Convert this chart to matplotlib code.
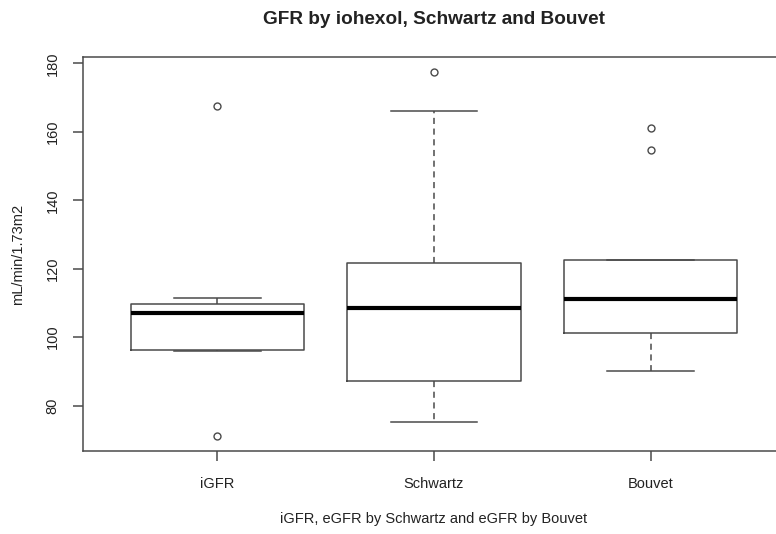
import matplotlib
matplotlib.use("Agg")
import matplotlib.pyplot as plt

plt.rcParams['font.family'] = ['Liberation Sans', 'DejaVu Sans']

# values (mL/min/1.73m2)
groups = ["iGFR", "Schwartz", "Bouvet"]
whis_lo = [95.8, 75.1, 90.0]
q1 = [96.3, 87.3, 101.1]
medians = [107.0, 108.5, 111.1]
q3 = [109.7, 121.6, 122.5]
whis_hi = [111.4, 166.1, 122.5]
outliers = [[167.5, 71.0], [177.5], [161.2, 154.6]]

stats = []
for i, name in enumerate(groups):
    stats.append(dict(label=name, whislo=whis_lo[i], q1=q1[i], med=medians[i],
                      q3=q3[i], whishi=whis_hi[i], fliers=outliers[i]))

line_col = "#4a4a4a"
fig = plt.figure(figsize=(7.76, 5.34), dpi=100)
ax = fig.add_axes([83/776, 83/534, 702/776, 394/534])

ax.bxp(stats, positions=[1, 2, 3], widths=0.8, patch_artist=False,
       boxprops=dict(color=line_col, linewidth=1.1),
       medianprops=dict(color="black", linewidth=3),
       whiskerprops=dict(color=line_col, linewidth=1.1, linestyle=(0, (4, 3))),
       capprops=dict(color=line_col, linewidth=1.1),
       capwidths=0.4,
       flierprops=dict(marker="o", markersize=5, markerfacecolor="none",
                       markeredgecolor=line_col, markeredgewidth=1.0))

ax.set_xlim(0.38, 3.62)
ax.set_ylim(66.7, 181.9)
ax.set_yticks([80, 100, 120, 140, 160, 180])
ax.set_xticks([1, 2, 3])
ax.set_xticklabels(groups)
for lbl in ax.get_yticklabels():
    lbl.set_rotation(90)
    lbl.set_va("center")

for s in ax.spines.values():
    s.set_color(line_col)
    s.set_linewidth(1.1)
ax.tick_params(axis="both", colors=line_col, length=7, width=1.1, labelsize=10.5,
               labelcolor="#222222")
ax.tick_params(axis="y", pad=10)
ax.tick_params(axis="x", pad=12)

fig.text(434/776, 1 - 19/534, "GFR by iohexol, Schwartz and Bouvet",
         ha="center", va="center", fontsize=13.7, fontweight="bold", color="#222222")
fig.text(434/776, 1 - 519/534, "iGFR, eGFR by Schwartz and eGFR by Bouvet",
         ha="center", va="center", fontsize=10.5, color="#222222")
fig.text(18/776, 1 - 254/534, "mL/min/1.73m2", rotation=90,
         ha="center", va="center", fontsize=10.5, color="#222222")

fig.savefig("out.png", dpi=100)
